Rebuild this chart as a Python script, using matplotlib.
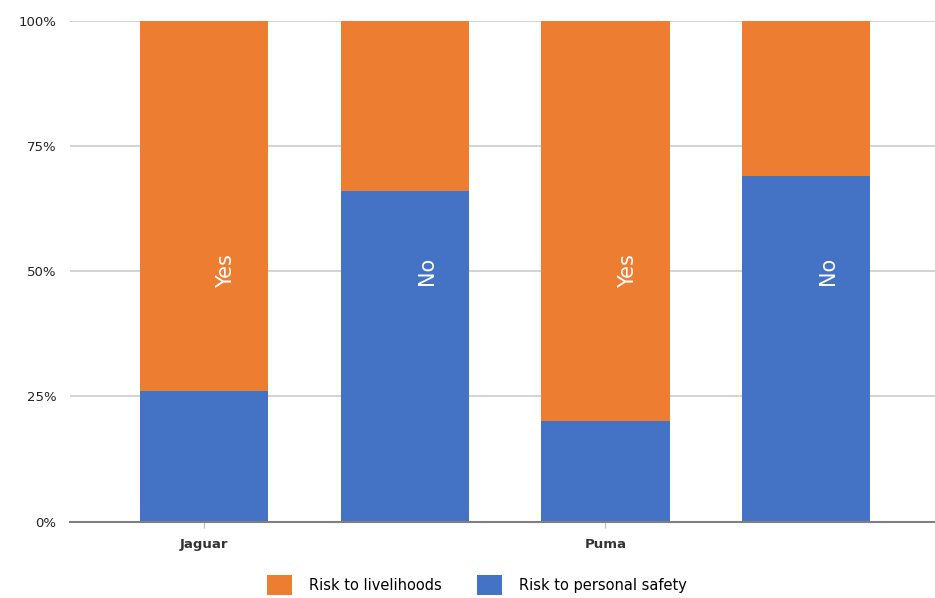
import numpy as np
import matplotlib.pyplot as plt

# Data (percent of respondents)
groups = ['Jaguar', 'Puma']
bar_labels = ['Yes', 'No', 'Yes', 'No']
personal_safety = [26, 66, 20, 69]
livelihoods = [74, 34, 80, 31]

ORANGE = '#ED7D31'
BLUE = '#4472C4'

fig = plt.figure(figsize=(9.35, 5.98), dpi=100)
ax = fig.add_axes([0.0749, 0.1276, 0.9251, 0.8378])

x = np.arange(len(bar_labels))
width = 0.64
ax.bar(x, personal_safety, width, color=BLUE, label='Risk to personal safety', zorder=2)
ax.bar(x, livelihoods, width, bottom=personal_safety, color=ORANGE,
       label='Risk to livelihoods', zorder=2)

# Yes / No labels inside bars
for xi, lab in zip(x, bar_labels):
    ax.text(xi + 0.11, 50, lab, rotation=90, color='white', fontsize=15,
            ha='center', va='center', zorder=3)

ax.set_xlim(-0.668, 3.642)
ax.set_ylim(0, 100)
ax.set_yticks([0, 25, 50, 75, 100])
ax.set_yticklabels([f'{v}%' for v in [0, 25, 50, 75, 100]], fontsize=9.5, color='#222222')
ax.grid(axis='y', color='#d0d0d0', linewidth=1.3, zorder=0)
ax.tick_params(axis='y', length=0, pad=10)

# group labels sit under the first bar of each pair
ax.set_xticks([0, 2])
ax.set_xticklabels(groups, fontsize=9.5, fontweight='bold', color='#333333')
ax.tick_params(axis='x', length=4, color='#bbbbbb', pad=8)

for side in ['top', 'right', 'left']:
    ax.spines[side].set_visible(False)
ax.spines['bottom'].set_color('#7f7f7f')
ax.spines['bottom'].set_linewidth(1.5)

handles, labels = ax.get_legend_handles_labels()
fig.legend(handles[::-1], labels[::-1], loc='center', bbox_to_anchor=(0.51, 0.022),
           ncol=2, frameon=False, fontsize=10.5, handlelength=1.7, handleheight=1.7,
           handletextpad=1.2, columnspacing=2.4)

fig.savefig('out.png', dpi=100)
